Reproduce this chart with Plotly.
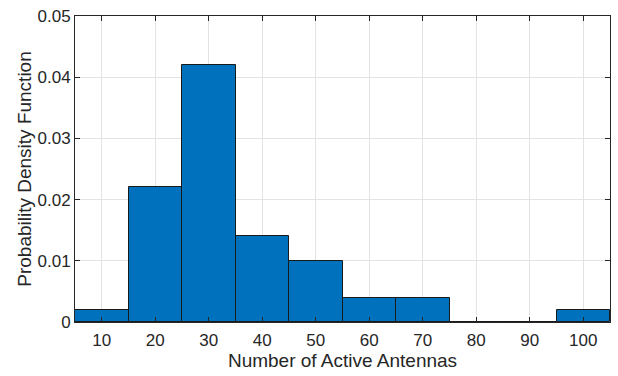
import plotly.graph_objects as go

bin_centers = [10, 20, 30, 40, 50, 60, 70, 80, 90, 100]
pdf_values = [0.002, 0.022, 0.042, 0.014, 0.010, 0.004, 0.004, 0.0, 0.0, 0.002]
x_ticks = [10, 20, 30, 40, 50, 60, 70, 80, 90, 100]
y_ticks = [0, 0.01, 0.02, 0.03, 0.04, 0.05]
y_tick_text = ["0", "0.01", "0.02", "0.03", "0.04", "0.05"]

FONT = "Liberation Sans, Arial, sans-serif"

fig = go.Figure()
fig.add_trace(go.Bar(
    x=bin_centers, y=pdf_values, width=10,
    marker=dict(color="#0072BD", line=dict(color="#1a1a1a", width=1)),
))

axis_common = dict(
    showline=True, linecolor="#262626", linewidth=1, mirror="ticks",
    ticks="inside", ticklen=5, tickcolor="#262626",
    showgrid=True, gridcolor="#e3e3e3", gridwidth=1,
    zeroline=False,
    tickfont=dict(family=FONT, size=17, color="#262626"),
)

fig.update_layout(
    width=618, height=376,
    margin=dict(l=75, r=7, t=13, b=54),
    paper_bgcolor="white", plot_bgcolor="white",
    bargap=0, showlegend=False,
    xaxis=dict(range=[5, 105], tickvals=x_ticks, ticklabelstandoff=3, **axis_common,
               title=dict(text="Number of Active Antennas", standoff=4,
                          font=dict(family=FONT, size=19, color="#262626"))),
    yaxis=dict(range=[0, 0.05], tickvals=y_ticks, ticktext=y_tick_text, **axis_common,
               title=dict(text="Probability Density Function", standoff=0,
                          font=dict(family=FONT, size=19, color="#262626"))),
)

fig.write_html("out.html")
